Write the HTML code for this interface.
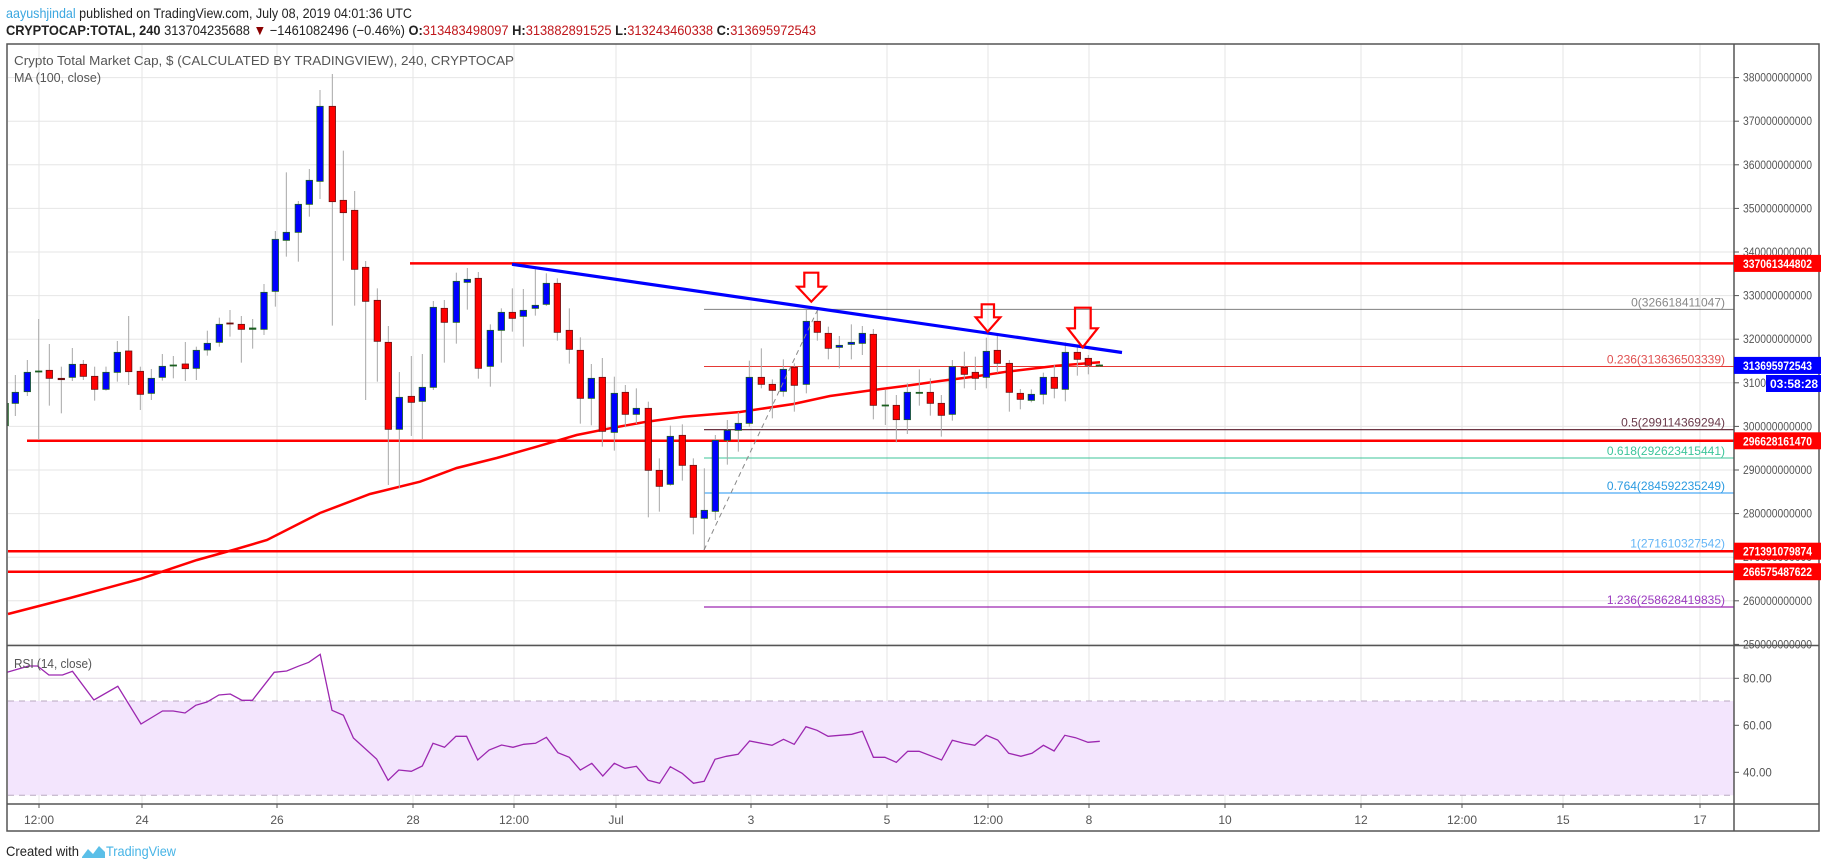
<!DOCTYPE html>
<html><head><meta charset="utf-8">
<style>
html,body{margin:0;padding:0;background:#fff;}
svg{display:block;font-family:"Liberation Sans",sans-serif;}
</style></head>
<body>
<svg id="s" width="1828" height="868" viewBox="0 0 1828 868" xmlns="http://www.w3.org/2000/svg">
<rect width="1828" height="868" fill="#fff"/>
<g id="grid"></g>
<!-- RSI band -->
<rect x="8" y="701" width="1726" height="94.3" fill="#f3e5fd"/>
<line x1="8" y1="701" x2="1734" y2="701" stroke="#b8a8c0" stroke-dasharray="6,5"/>
<line x1="8" y1="795.3" x2="1734" y2="795.3" stroke="#b8a8c0" stroke-dasharray="6,5"/>
<g id="hl"></g>
<g id="cand"></g>
<g id="ov"></g>
<!-- frame -->
<rect x="7" y="44" width="1812" height="787" fill="none" stroke="#555" stroke-width="1.5"/>
<line x1="1734" y1="44" x2="1734" y2="831" stroke="#555" stroke-width="1.5"/>
<line x1="7" y1="645.5" x2="1819" y2="645.5" stroke="#555" stroke-width="1.5"/>
<line x1="7" y1="804" x2="1819" y2="804" stroke="#555" stroke-width="1.5"/>
<g id="axis"></g>
<!-- header -->
<text x="6" y="18" font-size="14" textLength="406" lengthAdjust="spacingAndGlyphs"><tspan fill="#3ba7e0">aayushjindal</tspan><tspan fill="#222"> published on TradingView.com, July 08, 2019 04:01:36 UTC</tspan></text>
<text x="6" y="35" font-size="14" textLength="810" lengthAdjust="spacingAndGlyphs" fill="#222"><tspan font-weight="bold">CRYPTOCAP:TOTAL, 240</tspan> 313704235688 <tspan fill="#8b0000">▼</tspan> −1461082496 (−0.46%) <tspan font-weight="bold">O:</tspan><tspan fill="#c0161b">313483498097</tspan> <tspan font-weight="bold">H:</tspan><tspan fill="#c0161b">313882891525</tspan> <tspan font-weight="bold">L:</tspan><tspan fill="#c0161b">313243460338</tspan> <tspan font-weight="bold">C:</tspan><tspan fill="#c0161b">313695972543</tspan></text>
<text x="14" y="65" font-size="13" fill="#555" textLength="500" lengthAdjust="spacingAndGlyphs">Crypto Total Market Cap, $ (CALCULATED BY TRADINGVIEW), 240, CRYPTOCAP</text>
<text x="14" y="82" font-size="13" fill="#555" textLength="87" lengthAdjust="spacingAndGlyphs">MA (100, close)</text>
<text x="14" y="668" font-size="13" fill="#555" textLength="78" lengthAdjust="spacingAndGlyphs">RSI (14, close)</text>
<text x="6" y="856" font-size="14" fill="#222" textLength="73" lengthAdjust="spacingAndGlyphs">Created with</text>
<path d="M82 857 L88 849 L93 854 L99 846 L105 852 L105 858 L82 858 Z" fill="#5bbfe8"/>
<text x="106" y="856" font-size="14" fill="#47b4e6" textLength="70" lengthAdjust="spacingAndGlyphs">TradingView</text>
</svg>
<script>
var NS="http://www.w3.org/2000/svg";
function el(p,t,a,txt){var e=document.createElementNS(NS,t);for(var k in a)e.setAttribute(k,a[k]);if(txt!==undefined)e.textContent=txt;document.getElementById(p).appendChild(e);return e;}
function Y(P){return 426.4-(P-300)*4.36;}
// grid
var vx=[39,142,277,413,514,616,751,887,988,1089,1225,1361,1462,1563,1700];
var vl=["12:00","24","26","28","12:00","Jul","3","5","12:00","8","10","12","12:00","15","17"];
vx.forEach(function(x,i){el("grid","line",{x1:x,y1:44,x2:x,y2:804,stroke:"#e4e4e4"});
 el("axis","line",{x1:x,y1:804,x2:x,y2:808,stroke:"#555"});
 el("axis","text",{x:x,y:824,"font-size":12,fill:"#555","text-anchor":"middle"},vl[i]);});
for(var p=250;p<=380;p+=10){var y=Y(p);el("grid","line",{x1:8,y1:y,x2:1734,y2:y,stroke:"#e6e6e6"});
 el("axis","line",{x1:1734,y1:y,x2:1739,y2:y,stroke:"#555"});
 el("axis","text",{x:1743,y:y+4,"font-size":11.5,fill:"#555",textLength:69,lengthAdjust:"spacingAndGlyphs"},p+"000000000");}
[[80,678.3],[60,725.3],[40,772.3]].forEach(function(r){el("grid","line",{x1:8,y1:r[1],x2:1734,y2:r[1],stroke:"#e0d8e4"});
 el("axis","line",{x1:1734,y1:r[1],x2:1739,y2:r[1],stroke:"#555"});
 el("axis","text",{x:1743,y:r[1]+4,"font-size":11.5,fill:"#555"},r[0]+".00");});
// horizontal lines
function hl(x1,y,c,w){el("hl","line",{x1:x1,y1:y,x2:1734,y2:y,stroke:c,"stroke-width":w});}
hl(704,309.4,"#808080",1);hl(704,366.5,"#e53935",1);hl(704,429.7,"#5a1a2a",1.2);
hl(704,458,"#3cc59a",1);hl(704,493,"#2196f3",1);hl(704,550.6,"#64b5f6",1);hl(704,607,"#9c27b0",1.2);
hl(410,263.4,"#ff0000",2.5);hl(27,440.8,"#ff0000",2.5);hl(8,551.2,"#ff0000",2.5);hl(8,571.7,"#ff0000",2.5);
// MA
el("hl","polyline",{fill:"none",stroke:"#ff0000","stroke-width":2.5,points:"8,614 70,598 140,579 197,560 233,550 267,540 320,513 370,494 420,481.7 456.7,468 496.7,458 536.7,446.7 576.7,435 610,428.3 646.7,421.7 683.3,416.7 740,412 793.3,404 830,396 873.3,390 906.7,385.7 940,381 973.3,376.7 1006.7,371.7 1056.7,365.7 1100,362.3"});
// candles
var C=[[0,60,0,[[46,997,1030,945,1068,'b'],[82,937,995,900,1008,'b'],[116,933,935,777,1140,'g'],[148,931,955,852,1037,'r'],[184,955,959,920,1060,'d'],[217,913,952,864,963,'b'],[250,913,949,900,960,'r'],[284,949,988,920,1022,'r'],[318,937,988,920,992,'b'],[352,877,937,843,965,'b'],[386,873,935,768,975,'r'],[421,934,1003,920,1050,'r'],[454,955,1000,927,1020,'b'],[487,919,952,882,962,'b'],[520,915,917,888,955,'g'],[556,912,926,846,963,'r'],[589,871,925,860,960,'b'],[622,850,870,812,887,'b'],[658,793,847,773,860,'b'],[690,789,791,750,830,'d'],[724,793,808,768,908,'r'],[758,804,808,777,866,'g'],[792,697,808,672,825,'b'],[826,538,694,513,740,'b'],[859,517,541,337,590,'b'],[895,433,517,423,605,'b'],[928,361,433,327,470,'b'],[960,139,364,90,417,'b'],[997,139,425,42,797,'r'],[1030,421,458,272,602,'r'],[1064,451,628,393,737,'r'],[1097,622,724,603,1020,'r']]],
[370,220,0,[[22,241,364,205,485,'r'],[55,367,628,318,795,'r'],[88,532,628,456,805,'b'],[124,529,547,408,648,'r'],[157,502,544,402,657,'b'],[190,262,502,243,510,'b'],[223,265,307,240,428,'r'],[259,184,307,158,371,'b'],[292,178,187,144,269,'b'],[325,175,445,156,476,'r'],[361,331,439,313,500,'b'],[394,277,331,265,428,'b'],[427,277,295,205,335,'r'],[460,271,289,207,380,'b'],[496,256,265,148,287,'b'],[529,190,253,160,258,'b'],[562,190,337,175,362,'r'],[598,331,388,265,431,'r'],[631,391,535,352,611,'r'],[664,475,535,432,616,'b'],[697,472,634,414,680,'r'],[733,520,637,470,692,'b'],[766,517,583,495,622,'r'],[799,565,583,505,612,'b'],[835,565,751,545,892,'r'],[868,751,799,715,875,'r'],[901,649,793,617,797,'b'],[937,646,736,613,782,'r'],[970,736,892,715,943,'r'],[1003,871,895,745,990,'b'],[1036,661,874,645,900,'b'],[1072,631,661,600,734,'b'],[1105,610,631,576,695,'b']]],
[740,260,0,[[28,352,490,302,500,'b'],[64,352,373,265,385,'r'],[97,373,391,358,475,'r'],[130,328,394,298,410,'b'],[163,322,376,310,455,'r'],[199,184,373,150,400,'b'],[232,184,217,150,242,'r'],[265,220,265,200,298,'r'],[298,256,262,228,325,'b'],[334,247,253,193,298,'b'],[367,220,250,198,285,'b'],[400,223,436,207,478,'r'],[436,435,437,390,495,'g'],[469,436,479,405,547,'r'],[502,397,479,370,522,'b'],[538,397,400,328,437,'g'],[571,397,430,355,467,'r'],[604,430,466,405,530,'r'],[637,320,463,300,482,'b'],[673,322,343,275,385,'r'],[706,337,355,290,390,'r'],[739,274,352,233,385,'b'],[772,271,310,228,338,'r'],[808,310,397,300,455,'r'],[841,400,418,387,448,'r'],[874,403,421,388,427,'b'],[910,352,403,338,433,'b'],[943,352,385,315,415,'r'],[976,277,388,247,424,'b'],[1012,277,298,260,347,'r'],[1045,295,316,285,343,'r'],[1078,315,317,312,320,'g']]]];
C.forEach(function(g){g[3].forEach(function(c){var x=g[0]+c[0]/3,t=g[1]+c[1]/3,b=g[1]+c[2]/3,wt=g[1]+c[3]/3,wb=g[1]+c[4]/3;
 el("cand","line",{x1:x,y1:wt,x2:x,y2:wb,stroke:"#a8a8a8","stroke-width":1});
 var k=c[5],fill=k=='b'?'#0000ff':k=='r'?'#ff0000':k=='g'?'#1b5e20':'#7a0000',st=(k=='b'||k=='g')?'#1b5e20':'#6a1010';
 var h=Math.max(b-t,1);el("cand","rect",{x:x-3.2,y:t,width:6.4,height:h,fill:fill,stroke:st,"stroke-width":0.8});});});
el("cand","line",{x1:8,y1:403,x2:8,y2:426,stroke:"#1b5e20","stroke-width":1.5});
// fib dashed
el("ov","line",{x1:704,y1:550,x2:818,y2:309,stroke:"#888","stroke-width":1,"stroke-dasharray":"5,4"});
// trendline
el("ov","line",{x1:512,y1:264.3,x2:1122,y2:352.5,stroke:"#0000ff","stroke-width":3.2});
// arrows
function arr(l,r,t,m,hl_,hr,tx,ty){el("ov","path",{d:"M"+l+" "+t+" L"+r+" "+t+" L"+r+" "+m+" L"+hr+" "+m+" L"+tx+" "+ty+" L"+hl_+" "+m+" L"+l+" "+m+" Z",fill:"none",stroke:"#ff0000","stroke-width":2.2});}
arr(804.3,818.3,272.7,286.7,797.3,825.7,811.3,301.7);
arr(981.7,994,304.3,317.3,975.7,1000.3,987.7,331.7);
arr(1075,1090.7,307.7,328.3,1067.7,1097.7,1082.7,347.3);
// RSI
el("ov","polyline",{fill:"none",stroke:"#9c27b0","stroke-width":1.3,points:"7.1,672.3 28.6,666 37.5,666 48.9,675 62.5,675 72.5,671.3 93.9,700 117.8,686.3 141,724 162.5,711 173.2,711 185,713 195.7,705.3 207,702 218.9,695 230.3,694 242,700.3 252.4,700.3 274.2,672.3 286.7,671 298.1,666.3 308.8,662.3 320.2,654.3 332,710.3 343.4,715.3 353.4,738 376.6,759 388.1,780.3 398.8,770 411.3,771.3 422.3,766 433,743.3 444.5,747.3 455.9,736.3 466.6,736.3 477.7,760 489.1,750 501.6,745 513,747.3 523.7,744.3 535.5,743.3 546.4,737.3 557.9,752.7 569.3,757.3 580.3,770 591.8,763.3 602.8,776 614.3,763.3 625,768.3 636.4,766.3 648.2,780.3 659.6,783.3 670.3,766.7 682.1,773.3 693.5,783.3 704.2,781.3 715,759.3 726.4,756.3 738.1,754.3 749.6,741 772,745.3 783.5,739.3 794.2,744.3 806,726.7 817,730.3 828.1,736.3 851.7,734.3 862.4,731.3 873.4,757.3 884.9,757.3 896.3,762.3 907.7,751.3 919.1,751.3 941.6,760 952.3,740.3 963.8,743.3 974.8,745.3 986.3,735.3 997.7,740 1008.7,753.3 1020.9,756.3 1032,753.3 1043.4,745.3 1054.1,751 1064.8,735.3 1075.5,737.7 1088,742.3 1099.8,741.3"});
// fib labels
function fl(y,c,t){el("ov","text",{x:1725,y:y-3,"font-size":12,fill:c,"text-anchor":"end"},t);}
fl(309.4,"#888","0(326618411047)");fl(366.5,"#e05050","0.236(313636503339)");fl(429.7,"#6a3a4a","0.5(299114369294)");
fl(458,"#3cc59a","0.618(292623415441)");fl(493,"#2a9ae0","0.764(284592235249)");fl(550.6,"#64b5f6","1(271610327542)");fl(607,"#9c3ac0","1.236(258628419835)");
// price label boxes
function box(y,c,t){el("axis","rect",{x:1734,y:y-8.5,width:87,height:17,fill:c});
 el("axis","text",{x:1743,y:y+4.5,"font-size":12,"font-weight":"bold",fill:"#fff",textLength:69,lengthAdjust:"spacingAndGlyphs"},t);}
box(263.4,"#ff0000","337061344802");box(365.4,"#0000ff","313695972543");box(440.8,"#ff0000","296628161470");
box(551.2,"#ff0000","271391079874");box(571.7,"#ff0000","266575487622");
el("axis","rect",{x:1766,y:375,width:55,height:17,fill:"#0000ff"});
el("axis","text",{x:1770,y:388,"font-size":12,"font-weight":"bold",fill:"#fff"},"03:58:28");
</script>
</body></html>
